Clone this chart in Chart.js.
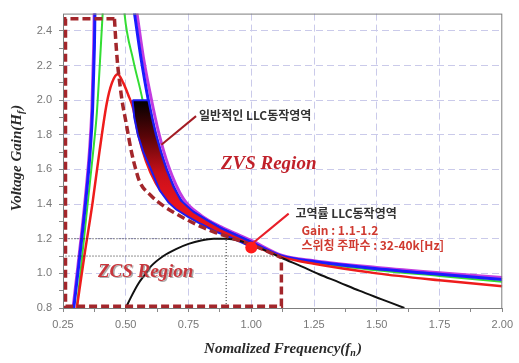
<!DOCTYPE html>
<html>
<head>
<meta charset="utf-8">
<script src="https://cdn.jsdelivr.net/npm/chart.js@4.4.0/dist/chart.umd.min.js"></script>
<style>
  body { margin: 0; background: #fff; }
  #wrap { width: 519px; height: 363px; }
</style>
</head>
<body>
<div id="wrap"><canvas id="gainChart" width="519" height="363"></canvas></div>
<script>
// tick values
const xTickVals = [0.25, 0.5, 0.75, 1.0, 1.25, 1.5, 1.75, 2.0];
const yTickVals = [0.8, 1.0, 1.2, 1.4, 1.6, 1.8, 2.0, 2.2, 2.4];

// gain curves (fn, gain)
const magentaCurve = [[0.29, 0.8], [0.31, 1.05], [0.337, 1.41], [0.355, 1.7], [0.365, 1.95], [0.372, 2.3], [0.376, 2.6],
  [0.535, 2.6], [0.545, 2.5], [0.57, 2.25], [0.6, 2.02], [0.63, 1.82], [0.67, 1.62], [0.73, 1.43], [0.8, 1.335],
  [0.88, 1.268], [0.95, 1.222], [1.0, 1.19], [1.12, 1.105], [1.25, 1.073], [1.5, 1.034], [1.75, 1.003], [2.0, 0.976]];
const blueCurve = [[0.293, 0.8], [0.313, 1.05], [0.34, 1.41], [0.358, 1.7], [0.368, 1.95], [0.375, 2.3], [0.379, 2.6],
  [0.525, 2.6], [0.535, 2.5], [0.56, 2.25], [0.59, 2.0], [0.62, 1.8], [0.662, 1.6], [0.72, 1.42], [0.8, 1.325],
  [0.88, 1.26], [0.94, 1.22], [1.0, 1.18], [1.12, 1.1], [1.25, 1.068], [1.5, 1.027], [1.75, 0.995], [2.0, 0.965]];
const greenCurve = [[0.305, 0.8], [0.33, 1.15], [0.348, 1.4], [0.37, 1.7], [0.385, 1.93], [0.408, 2.5], [0.412, 2.6],
  [0.49, 2.6], [0.495, 2.5], [0.53, 2.23], [0.567, 2.0], [0.59, 1.8], [0.63, 1.6], [0.69, 1.45], [0.76, 1.35],
  [0.85, 1.27], [0.93, 1.215], [1.0, 1.175], [1.12, 1.1], [1.25, 1.062], [1.5, 1.018], [1.75, 0.985], [2.0, 0.952]];
const redCurve = [[0.305, 0.8], [0.335, 1.1], [0.367, 1.4], [0.395, 1.7], [0.424, 1.98], [0.445, 2.1], [0.468, 2.15],
  [0.49, 2.1], [0.51, 2.03], [0.53, 1.95], [0.55, 1.8], [0.58, 1.65], [0.62, 1.52], [0.67, 1.425], [0.72, 1.365],
  [0.78, 1.31], [0.86, 1.25], [0.93, 1.21], [1.0, 1.165], [1.06, 1.13], [1.12, 1.095], [1.25, 1.055], [1.5, 1.0],
  [1.75, 0.96], [2.0, 0.925]];
const blackCurve = [[0.5, 0.8], [0.52, 0.86], [0.55, 0.94], [0.58, 1.0], [0.6, 1.04], [0.65, 1.1], [0.7, 1.14],
  [0.75, 1.17], [0.8, 1.19], [0.85, 1.2], [0.9, 1.2], [0.95, 1.19], [1.0, 1.165], [1.06, 1.13], [1.12, 1.09],
  [1.2, 1.04], [1.27, 0.995], [1.35, 0.948], [1.43, 0.9], [1.52, 0.85], [1.61, 0.8]];

// "일반적인 LLC동작영역" band (upper edge down, lower edge back up)
const normalBand = [[0.527, 2.0], [0.59, 2.0], [0.604, 1.9], [0.62, 1.8], [0.64, 1.7], [0.662, 1.6], [0.69, 1.5],
  [0.72, 1.42], [0.77, 1.355], [0.82, 1.31], [0.88, 1.26], [0.94, 1.22], [1.0, 1.18],
  [1.0, 1.152], [0.93, 1.2], [0.86, 1.24], [0.8, 1.285], [0.75, 1.325], [0.7, 1.37], [0.67, 1.41], [0.635, 1.48],
  [0.6, 1.6], [0.57, 1.7], [0.548, 1.8], [0.534, 1.9], [0.527, 2.0]];

// ZCS / ZVS boundary
const zcsBox = [[0.455, 2.47], [0.26, 2.47], [0.26, 0.81], [1.12, 0.81], [1.12, 1.09]];
const zcsEdge = [[0.455, 2.47], [0.46, 2.35], [0.468, 2.2], [0.476, 2.1], [0.485, 2.0], [0.5, 1.88], [0.523, 1.7],
  [0.54, 1.6], [0.555, 1.53], [0.6, 1.45], [0.65, 1.39], [0.7, 1.345], [0.75, 1.305], [0.8, 1.27], [0.85, 1.24],
  [0.9, 1.215], [0.95, 1.19], [1.0, 1.165], [1.06, 1.13], [1.12, 1.09]];

// guide lines and operating point
const guide12 = [[0.26, 1.2], [0.9, 1.2], [0.9, 0.8]];
const guide11 = [[0.26, 1.1], [1.12, 1.1]];
const opPoint = [[1.0, 1.15]];
const arrowNormal = [[0.78, 1.908], [0.642, 1.743]];
const arrowHigh = [[1.149, 1.345], [1.002, 1.169]];

const notes = [
  { text: "일반적인 LLC동작영역", x: 0.792, y: 1.914, font: 'bold 12px "Noto Sans CJK KR"', color: "#333" },
  { text: "ZVS Region", x: 0.879, y: 1.63, font: 'bold italic 19px "Liberation Serif"', color: "#c0202a" },
  { text: "ZCS Region", x: 0.389, y: 1.01, font: 'bold italic 19px "Liberation Serif"', color: "#c8363c", shadow: true },
  { text: "고역률 LLC동작영역", x: 1.176, y: 1.345, font: 'bold 12px "Noto Sans CJK KR"', color: "#333" },
  { text: "Gain : 1.1-1.2", x: 1.2, y: 1.249, font: 'bold 12px "Noto Sans CJK KR"', color: "#d03a30" },
  { text: "스위칭 주파수 : 32-40k[Hz]", x: 1.2, y: 1.164, font: 'bold 12px "Noto Sans CJK KR"', color: "#d03a30" },
];

const pts = (a) => a.map(([x, y]) => ({ x, y }));
const mid = (a) => a.slice(1).map((v, i) => (v + a[i]) / 2);
const xAll = [...xTickVals, ...mid(xTickVals)].sort((a, b) => a - b);
const yAll = [...yTickVals, ...mid(yTickVals)].sort((a, b) => a - b);

function curve(data, color, width, order, extra) {
  return Object.assign({
    data: pts(data), borderColor: color, borderWidth: width, order: order,
    pointRadius: 0, fill: false, clip: 0, tension: 0, cubicInterpolationMode: "monotone",
  }, extra || {});
}

function bandFill(c) {
  const ch = c.chart;
  if (!ch.chartArea) return "rgba(0,0,0,0)";
  const y = ch.scales.y;
  const g = ch.ctx.createLinearGradient(0, y.getPixelForValue(2.0), 0, y.getPixelForValue(1.4));
  g.addColorStop(0, "#000000");
  g.addColorStop(0.35, "#5a0508");
  g.addColorStop(0.7, "#c8101a");
  g.addColorStop(1, "#e8141c");
  return g;
}

// titles with subscripts, text notes and the box round the plot
function drawSubTitle(ctx, main, sub, end, cx, cy) {
  const big = 'bold italic 15px "Liberation Serif"';
  const small = 'bold italic 10px "Liberation Serif"';
  ctx.font = big; const w1 = ctx.measureText(main).width;
  ctx.font = small; const ws = ctx.measureText(sub).width;
  ctx.font = big; const w2 = ctx.measureText(end).width;
  const sx = cx - (w1 + ws + w2 + 1) / 2;
  ctx.textAlign = "left";
  ctx.fillText(main, sx, cy);
  ctx.font = small; ctx.fillText(sub, sx + w1, cy + 4);
  ctx.font = big; ctx.fillText(end, sx + w1 + ws + 1, cy);
}

const extras = {
  id: "extras",
  afterDatasetsDraw(chart) {
    const ctx = chart.ctx;
    const xs = chart.scales.x, ys = chart.scales.y;
    ctx.save();
    notes.forEach((n) => {
      ctx.font = n.font;
      ctx.textAlign = "left";
      ctx.textBaseline = "middle";
      const px = xs.getPixelForValue(n.x), py = ys.getPixelForValue(n.y);
      if (n.shadow) {
        ctx.fillStyle = "rgba(120,120,120,0.6)";
        ctx.fillText(n.text, px + 1.5, py + 1.5);
      }
      ctx.fillStyle = n.color;
      ctx.fillText(n.text, px, py);
    });
    ctx.restore();
  },
  afterDraw(chart) {
    const ctx = chart.ctx;
    const a = chart.chartArea;
    ctx.save();
    ctx.strokeStyle = "#7d7d7d";
    ctx.lineWidth = 1;
    ctx.strokeRect(a.left + 0.5, a.top + 0.5, a.right - a.left - 1, a.bottom - a.top);
    ctx.fillStyle = "#2a2a2a";
    ctx.textBaseline = "middle";
    drawSubTitle(ctx, "Nomalized Frequency(f", "n", ")", 283, 349);
    ctx.translate(17, 158);
    ctx.rotate(-Math.PI / 2);
    drawSubTitle(ctx, "Voltage Gain(H", "f", ")", 0, 0);
    ctx.restore();
  },
};

const gridCol = "#cacaea";
new Chart(document.getElementById("gainChart"), {
  type: "line",
  data: {
    datasets: [
      curve(opPoint, "#ff1a1a", 0, 1, { showLine: false, pointRadius: 6, pointBackgroundColor: "#ff1a1a", pointBorderWidth: 0 }),
      curve(arrowNormal, "#a31c24", 2, 2),
      curve(arrowHigh, "#e8202a", 2, 2),
      curve(zcsBox, "#a3262b", 3.5, 3, { borderDash: [8, 4], cubicInterpolationMode: "default" }),
      curve(zcsEdge, "#a3262b", 3.5, 3, { borderDash: [8, 4] }),
      curve(guide12, "#222", 1, 4, { borderDash: [1, 2], cubicInterpolationMode: "default" }),
      curve(guide11, "#222", 1, 4, { borderDash: [1, 2], cubicInterpolationMode: "default" }),
      curve(blackCurve, "#111", 2, 5),
      curve(normalBand, "#1c1cf0", 2, 6, { fill: "shape", backgroundColor: bandFill, cubicInterpolationMode: "default" }),
      curve(redCurve, "#ee1c1c", 2.5, 7),
      curve(blueCurve, "#1a1aff", 3, 8),
      curve(greenCurve, "#33dd33", 2, 9),
      curve(magentaCurve, "#c23ce0", 3, 10),
    ],
  },
  options: {
    responsive: false,
    animation: false,
    layout: { padding: { left: 0, right: 14, top: 9, bottom: 0 } },
    plugins: { legend: { display: false }, tooltip: { enabled: false } },
    scales: {
      x: {
        type: "linear", min: 0.25, max: 2.0,
        afterBuildTicks: (s) => { s.ticks = xAll.map((v) => ({ value: v })); },
        afterFit: (s) => { s.height = 55; },
        ticks: {
          autoSkip: false, maxRotation: 0, padding: 6, color: "#777",
          font: { family: "Liberation Sans", size: 11 },
          callback: (v) => (xTickVals.includes(v) ? v.toFixed(2) : ""),
        },
        grid: {
          color: (c) => (xTickVals.includes(c.tick.value) && c.tick.value > 0.25 && c.tick.value < 2.0 ? gridCol : "rgba(0,0,0,0)"),
          tickColor: "#888", tickLength: 4, lineWidth: 1,
        },
        border: { display: false, dash: [7, 4] },
      },
      y: {
        type: "linear", min: 0.8, max: 2.5,
        afterBuildTicks: (s) => { s.ticks = yAll.map((v) => ({ value: v })); },
        afterFit: (s) => { s.width = 63; },
        ticks: {
          autoSkip: false, padding: 7, color: "#777",
          font: { family: "Liberation Sans", size: 11 },
          callback: (v) => (yTickVals.includes(v) ? v.toFixed(1) : ""),
        },
        grid: {
          color: (c) => (yTickVals.includes(c.tick.value) && c.tick.value > 0.8 ? gridCol : "rgba(0,0,0,0)"),
          tickColor: "#888", tickLength: 4, lineWidth: 1,
        },
        border: { display: false, dash: [7, 4] },
      },
    },
  },
  plugins: [extras],
});
</script>
</body>
</html>
